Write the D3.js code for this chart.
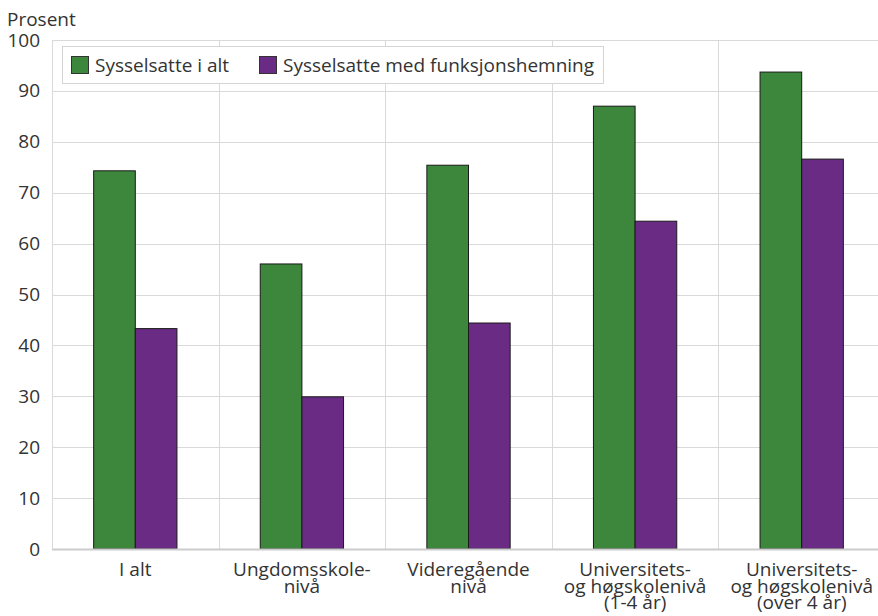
<!DOCTYPE html>
<html><head><meta charset="utf-8">
<script src="https://cdn.jsdelivr.net/npm/d3@7"></script>
<style>body{margin:0;background:#fff}svg{display:block;font-family:"Open Sans",sans-serif}</style>
</head><body><svg id="c" width="878" height="616"></svg>
<script>
const categories = [["I alt"],["Ungdomsskole-","nivå"],["Videregående","nivå"],["Universitets-","og høgskolenivå","(1-4 år)"],["Universitets-","og høgskolenivå","(over 4 år)"]];
const seriesNames = ["Sysselsatte i alt","Sysselsatte med funksjonshemning"];
const totalValues = [74.3, 56.0, 75.4, 87.0, 93.7];
const disabledValues = [43.3, 29.9, 44.4, 64.4, 76.6];
const yTicks = [0,10,20,30,40,50,60,70,80,90,100];
const colors = ["#3d873d","#692b84"];

(function(){
const FS = 19;
const svg = d3.select("#c");
const pL = 52, pR = 885, pT = 40, pB = 549;
const x = d3.scaleBand().domain(d3.range(categories.length)).range([pL, pR]).paddingInner(0).paddingOuter(0);
const y = d3.scaleLinear().domain([0,100]).range([pB, pT]);
const xs = d3.scaleBand().domain([0,1]).range([0, x.bandwidth()]).paddingInner(0).paddingOuter(1);

// grid
svg.append("g").selectAll("line").data(yTicks.filter(d=>d>0)).join("line")
  .attr("x1", pL).attr("x2", 878).attr("y1", d=>Math.round(y(d))+0.5).attr("y2", d=>Math.round(y(d))+0.5)
  .attr("stroke", "#d9d9d9").attr("stroke-width", 1);
svg.append("g").selectAll("line").data(d3.range(1, categories.length)).join("line")
  .attr("x1", d=>Math.round(x(d))+0.5).attr("x2", d=>Math.round(x(d))+0.5).attr("y1", pT).attr("y2", pB)
  .attr("stroke", "#d9d9d9").attr("stroke-width", 1);

// y axis labels
const yAxis = d3.axisLeft(y).tickValues(yTicks).tickSize(0).tickPadding(12);
const ga = svg.append("g").attr("transform", `translate(${pL},0)`).call(yAxis);
ga.select(".domain").remove();
ga.selectAll("text").attr("font-size", FS).attr("fill", "#333").attr("font-family", "Open Sans");

svg.append("text").attr("x", 7).attr("y", 26).attr("font-size", FS).attr("fill", "#333").text("Prosent");

// bars
const data = categories.map((c,i)=>[totalValues[i], disabledValues[i]]);
const groups = svg.append("g").selectAll("g").data(data).join("g")
  .attr("transform", (d,i)=>`translate(${x(i)},0)`);
groups.selectAll("rect").data(d=>d).join("rect")
  .attr("x", (d,j)=>xs(j)).attr("width", xs.bandwidth())
  .attr("y", d=>y(d)).attr("height", d=>y(0)-y(d))
  .attr("fill", (d,j)=>colors[j]).attr("stroke", "#1a1a1a").attr("stroke-width", 1);

// axis lines
svg.append("line").attr("x1", pL).attr("x2", 878).attr("y1", pB+0.5).attr("y2", pB+0.5)
  .attr("stroke", "#cccccc").attr("stroke-width", 2);
svg.append("line").attr("x1", pL+0.5).attr("x2", pL+0.5).attr("y1", pT).attr("y2", pB)
  .attr("stroke", "#d9d9d9").attr("stroke-width", 1);

// x labels
const xl = svg.append("g").selectAll("text").data(categories).join("text")
  .attr("x", (d,i)=>x(i)+x.bandwidth()/2).attr("y", 576)
  .attr("text-anchor", "middle").attr("font-size", FS).attr("fill", "#333");
xl.selectAll("tspan").data(d=>d).join("tspan")
  .attr("x", function(){return this.parentNode.getAttribute("x");})
  .attr("dy", (d,k)=>k===0?0:16.5).text(d=>d);

// legend
const lg = svg.append("g");
lg.append("rect").attr("x", 62.5).attr("y", 46.5).attr("width", 541).attr("height", 37)
  .attr("fill", "#fff").attr("stroke", "#d4d4d4");
const lx = [71, 259];
seriesNames.forEach((n,i)=>{
  lg.append("rect").attr("x", lx[i]+0.5).attr("y", 56.5).attr("width", 17).attr("height", 17)
    .attr("fill", colors[i]).attr("stroke", "#333");
  lg.append("text").attr("x", lx[i]+24).attr("y", 71.5).attr("font-size", FS).attr("fill", "#333").text(n);
});
})();
</script></body></html>
